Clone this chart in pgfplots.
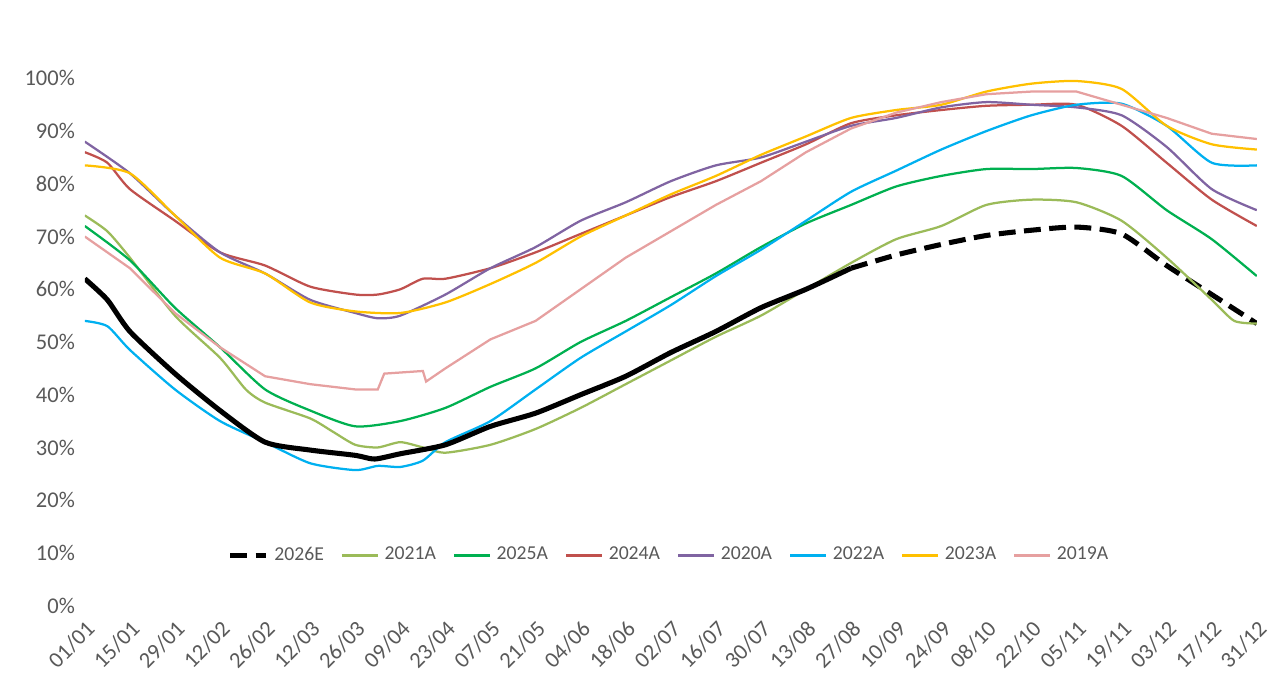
\documentclass[border=0pt]{standalone}
\usepackage{pgfplots}
\pgfplotsset{compat=1.18}
\usepackage{fontspec}
\setmainfont{Carlito}
\definecolor{c21}{HTML}{9BBB59}
\definecolor{c25}{HTML}{00B050}
\definecolor{c24}{HTML}{C0504D}
\definecolor{c20}{HTML}{8064A2}
\definecolor{c22}{HTML}{00B0F0}
\definecolor{c23}{HTML}{FFC000}
\definecolor{c19}{HTML}{E6A0A0}
\definecolor{tx}{HTML}{595959}
\begin{document}
\begin{tikzpicture}
\begin{axis}[scale only axis, width=14.65cm, height=6.59cm,
 xmin=0, xmax=364, ymin=0, ymax=100,
 axis line style={draw=none}, tick style={draw=none},
 axis x line*=bottom,
 xtick={0,14,...,364},
 xticklabels={01/01,15/01,29/01,12/02,26/02,12/03,26/03,09/04,23/04,07/05,21/05,04/06,18/06,02/07,16/07,30/07,13/08,27/08,10/09,24/09,08/10,22/10,05/11,19/11,03/12,17/12,31/12},
 x tick label style={rotate=45, anchor=north east, font=\footnotesize, text=tx},
 ytick={0,10,...,100}, yticklabel={\pgfmathprintnumber{\tick}\%},
 y tick label style={font=\footnotesize, text=tx},
 /pgf/number format/assume math mode=true,
 legend style={at={(0.5,0.095)}, anchor=center, draw=none, fill=none, legend columns=-1, font=\scriptsize, text=tx, /tikz/every even column/.append style={column sep=4pt}},
 legend image code/.code={\draw[#1] (0cm,0cm) -- (0.45cm,0cm);},
 every axis plot/.append style={line width=0.8pt, smooth, tension=0.4}]
\addplot[black, line width=1.8pt, dash pattern=on 6pt off 3pt] coordinates {(238,64)(252,66.5)(266,68.5)(280,70.2)(294,71.2)(308,71.8)(322,70.5)(336,64.5)(350,59)(364,53.5)};
\addlegendentry{2026E}
\addplot[c21] coordinates {(0,74)(7,71)(14,66)(28,55)(42,47)(50,41)(56,38.5)(70,35.5)(77,33)(84,30.5)(91,30)(98,31)(105,30)(112,29)(126,30.5)(140,33.5)(154,37.5)(168,42)(182,46.5)(196,51)(210,55)(224,60)(238,65)(252,69.5)(266,72)(280,76)(294,77)(308,76.5)(322,73)(336,66)(350,58)(357,54)(364,53.5)};
\addlegendentry{2021A}
\addplot[c25] coordinates {(0,72)(14,65.5)(28,56.5)(42,49)(56,41)(70,37)(84,34)(98,35)(112,37.5)(126,41.5)(140,45)(154,50)(168,54)(182,58.5)(196,63)(210,68)(224,72.5)(238,76)(252,79.5)(266,81.5)(280,82.8)(294,82.8)(308,83)(322,81.5)(336,75)(350,69.5)(364,62.5)};
\addlegendentry{2025A}
\addplot[c24] coordinates {(0,86)(7,84)(14,79)(28,73)(42,67)(56,64.5)(70,60.5)(84,59)(91,59)(98,60)(105,62)(112,62)(126,64)(140,67)(154,70.5)(168,74)(182,77.5)(196,80.5)(210,84)(224,87.5)(238,91.5)(252,93)(266,94)(280,94.8)(294,95)(308,95)(322,91)(336,84)(350,77)(364,72)};
\addlegendentry{2024A}
\addplot[c20] coordinates {(0,88)(14,82)(28,74)(42,67)(56,63)(70,58)(84,55.5)(91,54.5)(98,55)(112,59)(126,64)(140,68)(154,73)(168,76.5)(182,80.5)(196,83.5)(210,85)(224,88)(238,91)(252,92.5)(266,94.5)(280,95.5)(294,95)(308,94.5)(322,93)(336,87)(350,79)(364,75)};
\addlegendentry{2020A}
\addplot[c22] coordinates {(0,54)(7,53)(14,48.5)(28,41)(42,35)(56,31)(70,27)(84,25.7)(91,26.5)(98,26.3)(105,27.5)(112,31)(126,35)(140,41)(154,47)(168,52)(182,57)(196,62.5)(210,67.5)(224,73)(238,78.5)(252,82.5)(266,86.5)(280,90)(294,93)(308,95)(322,95.2)(336,91)(350,84)(364,83.5)};
\addlegendentry{2022A}
\addplot[c23] coordinates {(0,83.5)(14,82)(28,74)(42,66)(56,63)(70,57.5)(84,55.8)(98,55.5)(112,57.5)(126,61)(140,65)(154,70)(168,74)(182,78)(196,81.5)(210,85.5)(224,89)(238,92.5)(252,94)(266,95)(280,97.5)(294,99)(308,99.5)(322,98)(336,91)(350,87.5)(364,86.5)};
\addlegendentry{2023A}
\addplot[c19, sharp plot] coordinates {(0,70)(14,64)(28,55.5)(42,49)(56,43.5)(70,42)(84,41)(91,41)(93,44)(105,44.5)(106,42.5)(112,45)(126,50.5)(140,54)(154,60)(168,66)(182,71)(196,76)(210,80.5)(224,86)(238,90.5)(252,93.5)(266,95.5)(280,97)(294,97.5)(308,97.5)(322,95)(336,92.5)(350,89.5)(364,88.5)};
\addlegendentry{2019A}
\addplot[black, line width=1.8pt, forget plot] coordinates {(0,62)(7,58)(14,52)(28,44)(42,37)(56,31)(70,29.5)(84,28.5)(90,27.8)(98,28.8)(112,30.5)(126,34)(140,36.5)(154,40)(168,43.5)(182,48)(196,52)(210,56.5)(224,60)(238,64)};
\end{axis}
\pgfresetboundingbox
\path (current axis.south west) ++(-1.06cm,-0.96cm) rectangle ([xshift=0.29cm,yshift=0.98cm]current axis.north east);
\end{tikzpicture}
\end{document}
